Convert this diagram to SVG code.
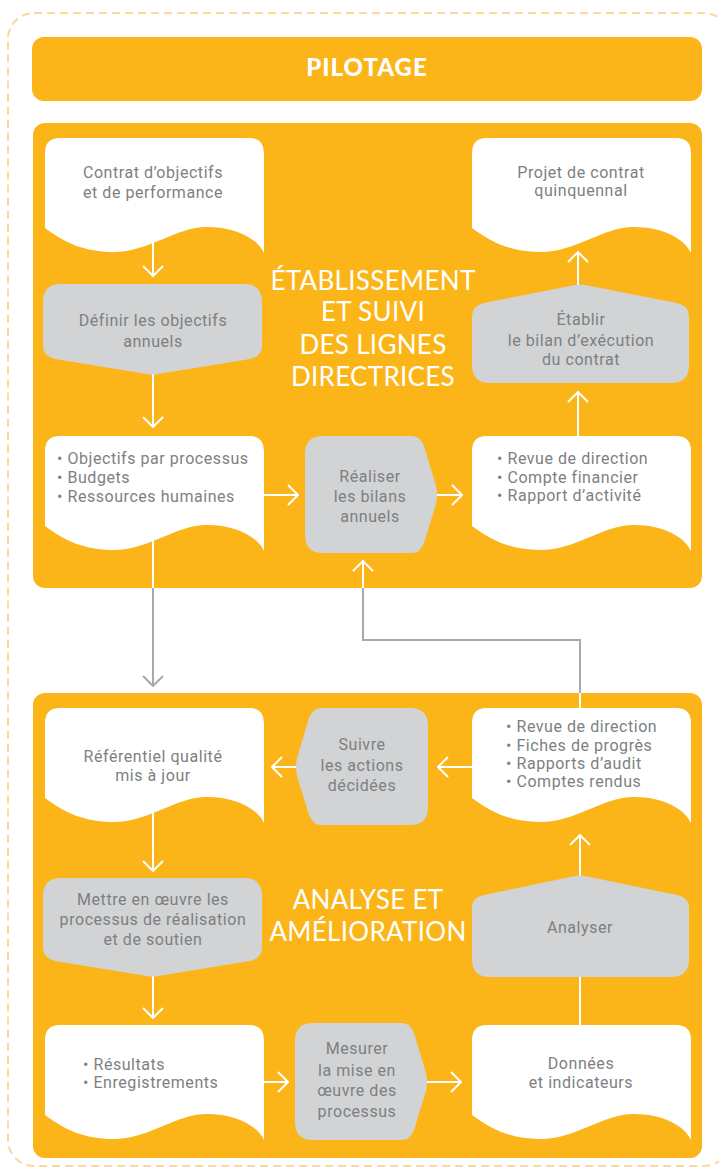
<svg xmlns="http://www.w3.org/2000/svg" width="719" height="1174" viewBox="0 0 719 1174">
<defs>
<style>
.sec{fill:#fbb519}
.doc{fill:#ffffff}
.proc{fill:#d1d3d4}
.t{font-family:Roboto,"Liberation Sans",sans-serif;font-size:16px;letter-spacing:0.55px;fill:#7d7f82}
.c{text-anchor:middle}
.title{font-family:Lato,"Liberation Sans",sans-serif;font-size:26px;letter-spacing:0.3px;fill:#ffffff;text-anchor:middle}
.w{stroke:#ffffff;stroke-width:2;fill:none}
.g{stroke:#a7a9ac;stroke-width:2;fill:none}
</style>
<path id="docshape" d="M0,90 V15 Q0,0 15,0 H204 Q219,0 219,15 V115 C212,100 190,89 162,89 C130,89 105,114 68,114 C40,114 20,105 0,90 Z"/>
<marker id="aw" viewBox="0 0 12 22" refX="11" refY="11" markerWidth="12" markerHeight="22" markerUnits="userSpaceOnUse" orient="auto">
<path d="M1,1 L11,11 L1,21" stroke="#ffffff" stroke-width="2" fill="none"/>
</marker>
<marker id="ag" viewBox="0 0 12 22" refX="11" refY="11" markerWidth="12" markerHeight="22" markerUnits="userSpaceOnUse" orient="auto">
<path d="M1,1 L11,11 L1,21" stroke="#a7a9ac" stroke-width="2" fill="none"/>
</marker>
</defs>
<rect x="0" y="0" width="719" height="1174" fill="#ffffff"/>
<rect x="8" y="13" width="722" height="1153" rx="26" fill="none" stroke="#fdd89a" stroke-width="2" stroke-dasharray="8 5"/>

<g id="pilotage">
<rect class="sec" x="32" y="37" width="670" height="64" rx="12"/>
<text x="367" y="76" font-family="Lato,'Liberation Sans',sans-serif" font-size="24" font-weight="900" fill="#ffffff" text-anchor="middle" letter-spacing="1">PILOTAGE</text>
</g>

<g id="section1">
<rect class="sec" x="33" y="123" width="669" height="465" rx="12"/>
<text class="title" x="373" y="290">ÉTABLISSEMENT</text>
<text class="title" x="373" y="321">ET SUIVI</text>
<text class="title" x="373" y="354">DES LIGNES</text>
<text class="title" x="373" y="386">DIRECTRICES</text>
</g>

<g id="section2">
<rect class="sec" x="33" y="693" width="669" height="465" rx="12"/>
<text class="title" x="368" y="909">ANALYSE ET</text>
<text class="title" x="368" y="941">AMÉLIORATION</text>
</g>

<g id="connectors">
<line class="w" x1="153" y1="240" x2="153" y2="276" marker-end="url(#aw)"/>
<line class="w" x1="153" y1="370" x2="153" y2="427" marker-end="url(#aw)"/>
<line class="w" x1="264" y1="495" x2="298" y2="495" marker-end="url(#aw)"/>
<line class="w" x1="436" y1="495" x2="462" y2="495" marker-end="url(#aw)"/>
<line class="w" x1="578" y1="440" x2="578" y2="392" marker-end="url(#aw)"/>
<line class="w" x1="578" y1="290" x2="578" y2="252" marker-end="url(#aw)"/>
<line class="w" x1="153" y1="540" x2="153" y2="588"/>
<line class="g" x1="153" y1="588" x2="153" y2="686" marker-end="url(#ag)"/>
<line class="w" x1="580" y1="710" x2="580" y2="693"/>
<polyline class="g" points="580,693 580,640 363,640 363,588"/>
<line class="w" x1="363" y1="588" x2="363" y2="561" marker-end="url(#aw)"/>
<line class="w" x1="474" y1="767" x2="438" y2="767" marker-end="url(#aw)"/>
<line class="w" x1="297" y1="767" x2="272" y2="767" marker-end="url(#aw)"/>
<line class="w" x1="153" y1="810" x2="153" y2="871" marker-end="url(#aw)"/>
<line class="w" x1="153" y1="970" x2="153" y2="1018" marker-end="url(#aw)"/>
<line class="w" x1="264" y1="1082" x2="288" y2="1082" marker-end="url(#aw)"/>
<line class="w" x1="426" y1="1082" x2="461" y2="1082" marker-end="url(#aw)"/>
<line class="w" x1="580" y1="1030" x2="580" y2="975"/>
<line class="w" x1="580" y1="880" x2="580" y2="835" marker-end="url(#aw)"/>
</g>

<g id="contrat">
<use href="#docshape" class="doc" transform="translate(45,138)"/>
<text class="t c" x="153" y="178">Contrat d’objectifs</text>
<text class="t c" x="153" y="198">et de performance</text>
</g>

<g id="definir">
<path class="proc" d="M61,284 H244 Q262,284 262,302 V346 Q262,356 250,359 L158,374 Q152.5,375 147,374 L55,359 Q43,356 43,346 V302 Q43,284 61,284 Z"/>
<text class="t c" x="153" y="326">Définir les objectifs</text>
<text class="t c" x="153" y="347">annuels</text>
</g>

<g id="objectifs">
<use href="#docshape" class="doc" transform="translate(45,436)"/>
<text class="t" x="57" y="464">• Objectifs par processus</text>
<text class="t" x="57" y="483">• Budgets</text>
<text class="t" x="57" y="502">• Ressources humaines</text>
</g>

<g id="realiser">
<path class="proc" d="M323,436 H412 Q420,436 424,446 L436,486 Q438,495 436,504 L424,543 Q420,553 412,553 H323 Q305,553 305,535 V454 Q305,436 323,436 Z"/>
<text class="t c" x="370" y="482">Réaliser</text>
<text class="t c" x="370" y="502">les bilans</text>
<text class="t c" x="370" y="522">annuels</text>
</g>

<g id="revue1">
<use href="#docshape" class="doc" transform="translate(472,436)"/>
<text class="t" x="497" y="464">• Revue de direction</text>
<text class="t" x="497" y="483">• Compte financier</text>
<text class="t" x="497" y="501">• Rapport d’activité</text>
</g>

<g id="etablir">
<path class="proc" d="M472,316 Q472,306 484,303 L575,285 Q580,284 585,285 L677,303 Q689,306 689,316 V365 Q689,383 671,383 H490 Q472,383 472,365 Z"/>
<text class="t c" x="581" y="325">Établir</text>
<text class="t c" x="581" y="346">le bilan d’exécution</text>
<text class="t c" x="581" y="365">du contrat</text>
</g>

<g id="projet">
<use href="#docshape" class="doc" transform="translate(472,138)"/>
<text class="t c" x="581" y="178">Projet de contrat</text>
<text class="t c" x="581" y="196">quinquennal</text>
</g>

<g id="referentiel">
<use href="#docshape" class="doc" transform="translate(45,708)"/>
<text class="t c" x="153" y="762">Référentiel qualité</text>
<text class="t c" x="153" y="781">mis à jour</text>
</g>

<g id="suivre">
<path class="proc" d="M410,708 H321 Q313,708 309,718 L297,758 Q295,767 297,776 L309,815 Q313,825 321,825 H410 Q428,825 428,807 V726 Q428,708 410,708 Z"/>
<text class="t c" x="362" y="750">Suivre</text>
<text class="t c" x="362" y="771">les actions</text>
<text class="t c" x="362" y="791">décidées</text>
</g>

<g id="revue2">
<use href="#docshape" class="doc" transform="translate(472,708)"/>
<text class="t" x="506" y="732">• Revue de direction</text>
<text class="t" x="506" y="751">• Fiches de progrès</text>
<text class="t" x="506" y="769">• Rapports d’audit</text>
<text class="t" x="506" y="787">• Comptes rendus</text>
</g>

<g id="mettre">
<path class="proc" d="M61,878 H244 Q262,878 262,896 V948 Q262,958 250,961 L158,976 Q152.5,977 147,976 L55,961 Q43,958 43,948 V896 Q43,878 61,878 Z"/>
<text class="t c" x="153" y="905">Mettre en œuvre les</text>
<text class="t c" x="153" y="925">processus de réalisation</text>
<text class="t c" x="153" y="945">et de soutien</text>
</g>

<g id="analyser">
<path class="proc" d="M472,906 Q472,898 484,895 L575,876 Q580,875 585,876 L677,895 Q689,898 689,906 V959 Q689,977 671,977 H490 Q472,977 472,959 Z"/>
<text class="t c" x="580" y="933">Analyser</text>
</g>

<g id="resultats">
<use href="#docshape" class="doc" transform="translate(45,1025)"/>
<text class="t" x="83" y="1070">• Résultats</text>
<text class="t" x="83" y="1088">• Enregistrements</text>
</g>

<g id="mesurer">
<path class="proc" d="M313,1023 H402 Q410,1023 414,1033 L426,1073 Q428,1082 426,1091 L414,1130 Q410,1140 402,1140 H313 Q295,1140 295,1122 V1041 Q295,1023 313,1023 Z"/>
<text class="t c" x="357" y="1054">Mesurer</text>
<text class="t c" x="357" y="1076">la mise en</text>
<text class="t c" x="357" y="1096">œuvre des</text>
<text class="t c" x="357" y="1117">processus</text>
</g>

<g id="donnees">
<use href="#docshape" class="doc" transform="translate(472,1025)"/>
<text class="t c" x="581" y="1069">Données</text>
<text class="t c" x="581" y="1088">et indicateurs</text>
</g>
</svg>
